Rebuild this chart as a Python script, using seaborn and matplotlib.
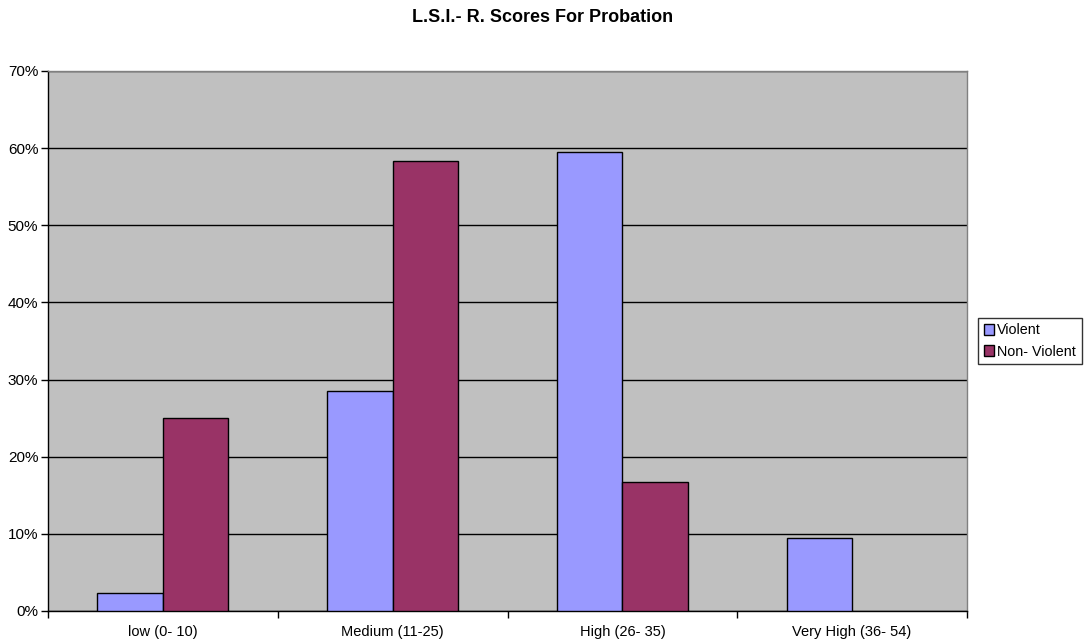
import matplotlib.pyplot as plt
import seaborn as sns
import pandas as pd
from matplotlib.ticker import PercentFormatter, FixedLocator
from matplotlib.patches import Patch

# 数据
categories = ["low (0- 10)", "Medium (11-25)", "High (26- 35)", "Very High (36- 54)"]
violent = [2.38, 28.57, 59.52, 9.52]
non_violent = [25.0, 58.33, 16.67, 0.0]
series_names = ["Violent", "Non- Violent"]
colors = ["#9999FF", "#993366"]

df = pd.DataFrame({
    "category": categories * 2,
    "value": violent + non_violent,
    "series": [series_names[0]] * 4 + [series_names[1]] * 4,
})

sns.set_style("white")
plt.rcParams["font.family"] = ["Liberation Sans", "DejaVu Sans"]
plt.rcParams["text.color"] = "black"
plt.rcParams["xtick.color"] = "black"
plt.rcParams["ytick.color"] = "black"

fig = plt.figure(figsize=(10.85, 6.42), dpi=100)
ax = fig.add_axes([48 / 1085, 31 / 642, 919 / 1085, 540 / 642])
ax.set_facecolor("#C0C0C0")

sns.barplot(data=df, x="category", y="value", hue="series", palette=colors,
            width=0.57, edgecolor="black", linewidth=1, saturation=1,
            ax=ax, legend=False, zorder=3)

# 零值柱不画边框
for p in ax.patches:
    if p.get_height() == 0:
        p.set_visible(False)

ax.set_ylim(0, 70)
ax.set_xlim(-0.5, 3.5)
ax.set_yticks(range(0, 71, 10))
ax.yaxis.set_major_formatter(PercentFormatter(decimals=0))
ax.grid(axis="y", color="black", linewidth=1, zorder=0)
ax.set_axisbelow(True)
ax.set_xlabel("")
ax.set_ylabel("")

# 类别分界处的刻度线
ax.xaxis.set_minor_locator(FixedLocator([-0.5, 0.5, 1.5, 2.5, 3.5]))
ax.tick_params(axis="x", which="major", bottom=True, length=0, pad=10,
               labelsize=10.5, labelcolor="black")
ax.tick_params(axis="x", which="minor", bottom=True, length=5, width=1,
               color="black", direction="out")
ax.tick_params(axis="y", which="major", left=True, length=5, width=1, color="black",
               direction="out", labelsize=11, pad=2, labelcolor="black")

for side in ["top", "right"]:
    ax.spines[side].set_color("#808080")
    ax.spines[side].set_linewidth(1)
for side in ["left", "bottom"]:
    ax.spines[side].set_color("black")
    ax.spines[side].set_linewidth(1)

fig.text(0.5, 1 - 18 / 642, "L.S.I.- R. Scores For Probation",
         ha="center", va="center", fontsize=13, fontweight="bold", color="black")

handles = [Patch(facecolor=c, edgecolor="black", label=n) for c, n in zip(colors, series_names)]
leg = fig.legend(handles=handles, loc="center left",
                 bbox_to_anchor=(978 / 1085, 1 - 341 / 642), frameon=True,
                 fancybox=False, edgecolor="black", fontsize=10.3,
                 handlelength=0.75, handleheight=0.75, handletextpad=0.2,
                 borderpad=0.4, labelspacing=0.5, borderaxespad=0, labelcolor="black")
leg.get_frame().set_linewidth(1)

fig.savefig("out.png", dpi=100, facecolor="white")
